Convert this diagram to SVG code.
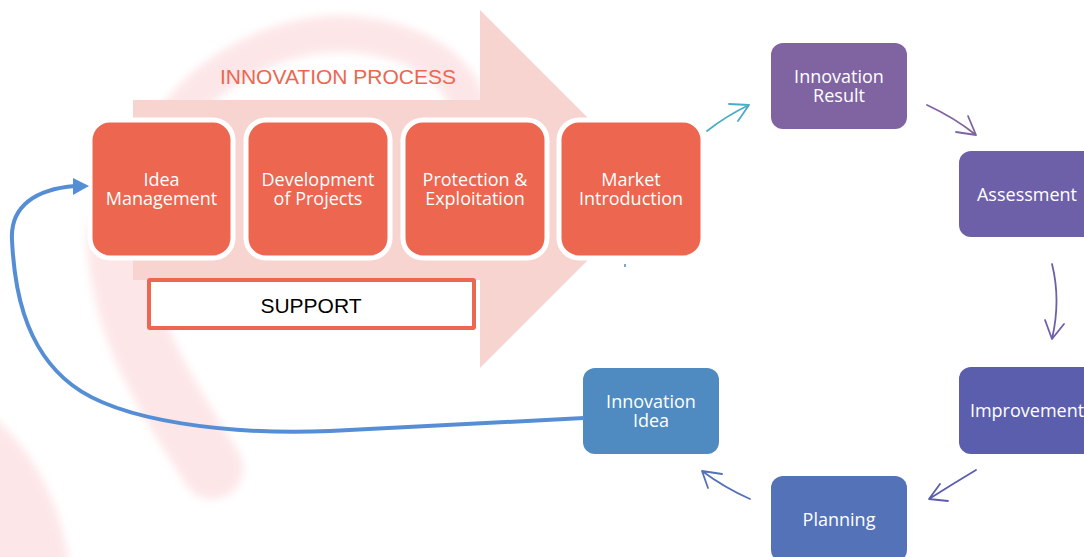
<svg xmlns="http://www.w3.org/2000/svg" width="1084" height="557" viewBox="0 0 1084 557">
  <style>
    .stage { fill: #ec6650; stroke: #ffffff; stroke-width: 5; }
    .lbl { font-family: "Open Sans", "Liberation Sans", sans-serif; font-size: 18px; fill: #ffffff; text-anchor: middle; }
    .cap { font-family: "Liberation Sans", Arial, sans-serif; text-anchor: middle; }
    .conn { fill: none; stroke-width: 1.8; stroke-linecap: round; stroke-linejoin: round; }
  </style>
  <defs>
    <filter id="soft" x="-20%" y="-20%" width="140%" height="140%">
      <feGaussianBlur stdDeviation="4"/>
    </filter>
  </defs>

  <rect width="1084" height="557" fill="#ffffff"/>

  <!-- faint watermark logo behind everything -->
  <g id="watermark" filter="url(#soft)" fill="none" stroke="#fde6e8" stroke-linecap="round">
    <path d="M150,175 C170,80 280,25 360,35 C420,42 460,70 470,110" stroke-width="36"/>
    <path d="M118,235 C120,330 170,400 212,468" stroke-width="62"/>
    <path d="M-30,400 C20,430 60,490 70,570 L-30,570 Z" fill="#fde6e8" stroke="none"/>
  </g>

  <!-- big process arrow -->
  <g id="process-arrow">
    <path d="M133,100 H480 V10 L659,189 L480,368 V280 H133 Z" fill="#f8d4d0"/>
    <text class="cap" x="338" y="84" font-size="21" fill="#ec6650">INNOVATION PROCESS</text>
  </g>

  <g id="idea-management">
    <rect class="stage" x="90" y="120" width="143" height="138" rx="20"/>
    <text class="lbl" x="161.5" y="186">Idea</text>
    <text class="lbl" x="161.5" y="205">Management</text>
  </g>
  <g id="development">
    <rect class="stage" x="246" y="120" width="144" height="138" rx="20"/>
    <text class="lbl" x="318" y="186">Development</text>
    <text class="lbl" x="318" y="205">of Projects</text>
  </g>
  <g id="protection">
    <rect class="stage" x="403" y="120" width="144" height="138" rx="20"/>
    <text class="lbl" x="475" y="186">Protection &amp;</text>
    <text class="lbl" x="475" y="205">Exploitation</text>
  </g>
  <g id="market">
    <rect class="stage" x="559" y="120" width="144" height="138" rx="20"/>
    <text class="lbl" x="631" y="186">Market</text>
    <text class="lbl" x="631" y="205">Introduction</text>
  </g>

  <g id="support">
    <rect x="149" y="280" width="325" height="48" fill="#ffffff" stroke="#ec6650" stroke-width="4" rx="1"/>
    <text class="cap" x="311" y="313" font-size="21" fill="#000000">SUPPORT</text>
  </g>

  <g id="innovation-result">
    <rect x="771" y="43" width="136" height="86" rx="12" fill="#8064a2"/>
    <text class="lbl" x="839" y="83">Innovation</text>
    <text class="lbl" x="839" y="102">Result</text>
  </g>
  <g id="assessment">
    <rect x="959" y="151" width="136" height="86" rx="12" fill="#6e60a8"/>
    <text class="lbl" x="1027" y="201">Assessment</text>
  </g>
  <g id="improvement">
    <rect x="959" y="367" width="136" height="87" rx="12" fill="#5b5ead"/>
    <text class="lbl" x="1027" y="417">Improvement</text>
  </g>
  <g id="planning">
    <rect x="771" y="476" width="136" height="86" rx="12" fill="#5472b8"/>
    <text class="lbl" x="839" y="526">Planning</text>
  </g>
  <g id="innovation-idea">
    <rect x="583" y="368" width="136" height="86" rx="12" fill="#4f8bc0"/>
    <text class="lbl" x="651" y="408">Innovation</text>
    <text class="lbl" x="651" y="427">Idea</text>
  </g>

  <g id="connectors">
    <!-- market -> result -->
    <path class="conn" stroke="#4bacc6" d="M707,131 Q726,116 749,105 M729,104 L749,105 L738,121"/>
    <!-- result -> assessment -->
    <path class="conn" stroke="#8064a2" d="M927,105 Q955,118 976,135 M956,132 L976,135 L968,116"/>
    <!-- assessment -> improvement -->
    <path class="conn" stroke="#6e60a8" d="M1052,264 Q1061,300 1052,339 M1045,320 L1052,339 L1064,324"/>
    <!-- improvement -> planning -->
    <path class="conn" stroke="#5b5ead" d="M976,470 Q951,485 929,499 M940,484 L929,499 L948,501"/>
    <!-- planning -> idea -->
    <path class="conn" stroke="#5472b8" d="M750,499 Q725,488 702,471 M722,474 L702,471 L708,488"/>
    <!-- idea feeds back into idea management -->
    <path fill="none" stroke="#558ed5" stroke-width="4" d="M584,418 L330,431 C230,435 120,422 72,385 C22,347 14,282 12,240 C10,206 36,189 75,186"/>
    <path fill="#558ed5" d="M73,178 L89,186 L73,195 Z"/>
    <path stroke="#4f8bc0" stroke-width="1.5" d="M625,264 L625,267"/>
  </g>
</svg>
